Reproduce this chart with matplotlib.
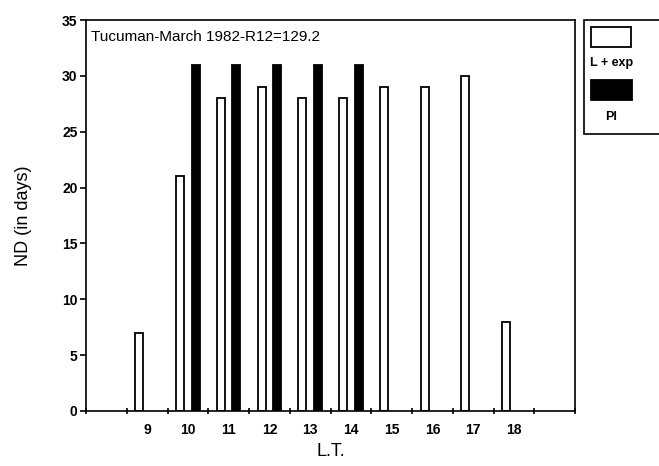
import matplotlib
matplotlib.use("Agg")
import matplotlib.pyplot as plt
from matplotlib.patches import Rectangle

hours = [9, 10, 11, 12, 13, 14, 15, 16, 17, 18]
lexp_values = [7, 21, 28, 29, 28, 28, 29, 29, 30, 8]
pi_hours = [10, 11, 12, 13, 14]
pi_values = [31, 31, 31, 31, 31]
title_text = "Tucuman-March 1982-R12=129.2"
legend_labels = ["L + exp", "PI"]

plt.rcParams['font.family'] = ['Liberation Sans', 'DejaVu Sans']

fig = plt.figure(figsize=(6.59, 4.66), dpi=100)
ax = fig.add_axes([86 / 659, 1 - 411 / 466, (575 - 86) / 659, (411 - 20) / 466])

w = 0.2
off = 0.19
ax.bar([h - off for h in hours], lexp_values, width=w, color="white",
       edgecolor="black", linewidth=1.3)
ax.bar([h + off for h in pi_hours], pi_values, width=w, color="black",
       edgecolor="black", linewidth=1.3)

ax.set_xlim(7.5, 19.5)
ax.set_ylim(0, 35)
ax.set_yticks(range(0, 36, 5))
ax.set_xticks(hours)
ax.set_xticks([x + 0.5 for x in range(7, 20)], minor=True)
ax.tick_params(axis='x', which='major', length=0, pad=9, labelsize=10)
ax.tick_params(axis='x', which='minor', length=4, width=1.2, direction='inout')
ax.tick_params(axis='y', which='major', length=4, width=1.2, direction='out', labelsize=10, pad=2)
for lab in ax.get_xticklabels() + ax.get_yticklabels():
    lab.set_fontweight('bold')
for s in ax.spines.values():
    s.set_linewidth(1.2)

ax.text(0.01, 0.975, title_text, transform=ax.transAxes, ha='left', va='top', fontsize=11)
ax.set_ylabel("ND (in days)", fontsize=13, labelpad=22)
ax.set_xlabel("L.T.", fontsize=13, labelpad=4)

# legend drawn manually in figure pixel coords
W, H = 659, 466
def fx(x): return x / W
def fy(y): return 1 - y / H
fig.patches.append(Rectangle((fx(584), fy(134)), fx(660) - fx(584), fy(20) - fy(134),
                             transform=fig.transFigure, facecolor='white',
                             edgecolor='black', linewidth=1.2, clip_on=False))
fig.patches.append(Rectangle((fx(591), fy(47)), fx(631) - fx(591), fy(27) - fy(47),
                             transform=fig.transFigure, facecolor='white',
                             edgecolor='black', linewidth=1.3))
fig.text(fx(590), fy(63), legend_labels[0], ha='left', va='center', fontsize=9, fontweight='bold')
fig.patches.append(Rectangle((fx(591), fy(100)), fx(632) - fx(591), fy(80) - fy(100),
                             transform=fig.transFigure, facecolor='black',
                             edgecolor='black', linewidth=1.3))
fig.text(fx(611), fy(117), legend_labels[1], ha='center', va='center', fontsize=9, fontweight='bold')

fig.savefig("out.png", dpi=100)
